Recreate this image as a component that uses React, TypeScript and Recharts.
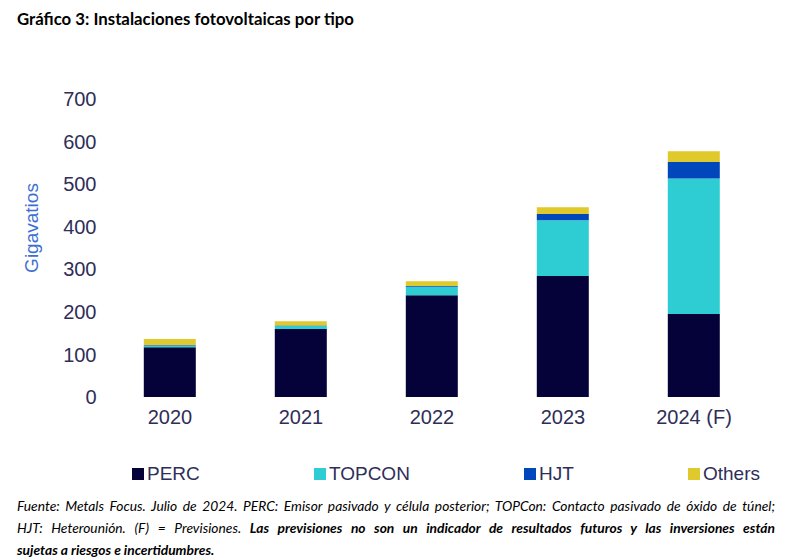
import { BarChart, Bar, XAxis, YAxis } from "recharts";

const years = ["2020", "2021", "2022", "2023", "2024 (F)"];
const perc = [117, 160, 239, 284, 195];
const topcon = [4, 7, 20, 131, 318];
const hjt = [1, 1, 2, 15, 39];
const others = [14, 10, 11, 16, 25];
const yTicks = [0, 100, 200, 300, 400, 500, 600, 700];

const series = [
  { key: "perc", name: "PERC", color: "#040238" },
  { key: "topcon", name: "TOPCON", color: "#2ecdd4" },
  { key: "hjt", name: "HJT", color: "#0047bb" },
  { key: "others", name: "Others", color: "#e0c92c" },
];

const data = years.map((year, i) => ({
  year,
  perc: perc[i],
  topcon: topcon[i],
  hjt: hjt[i],
  others: others[i],
}));

const axisFont = "Arial, 'Liberation Sans', sans-serif";
const noteFont = "Lato, 'Open Sans', sans-serif";

function YTitle({ viewBox }: any) {
  const x = viewBox.x - 13;
  const y = 228;
  return (
    <text
      x={x}
      y={y}
      transform={`rotate(-90, ${x}, ${y})`}
      textAnchor="middle"
      dominantBaseline="central"
      fill="#3b6fd2"
      fontSize={19}
      fontFamily={axisFont}
    >
      Gigavatios
    </text>
  );
}

export default function App() {
  return (
    <div
      style={{
        position: "absolute",
        left: 0,
        top: 0,
        width: 792,
        height: 560,
        background: "#fff",
        overflow: "hidden",
      }}
    >
      <div
        style={{
          position: "absolute",
          left: 17,
          top: 8,
          fontFamily: noteFont,
          fontWeight: 700,
          fontSize: 16.8,
          color: "#000",
        }}
      >
        Gráfico 3: Instalaciones fotovoltaicas por tipo
      </div>

      <div style={{ position: "absolute", left: 0, top: 0 }}>
        <BarChart
          width={792}
          height={440}
          data={data}
          margin={{ top: 99, right: 32.5, left: 44.5, bottom: 13 }}
          barCategoryGap="30%"
        >
          <XAxis
            dataKey="year"
            axisLine={false}
            tickLine={false}
            tickMargin={7}
            tick={{ fill: "#2e2e58", fontSize: 20, fontFamily: axisFont }}
          />
          <YAxis
            width={60}
            domain={[0, 700]}
            ticks={yTicks}
            axisLine={false}
            tickLine={false}
            tick={{ fill: "#2e2e58", fontSize: 20, fontFamily: axisFont }}
            label={<YTitle />}
          />
          {series.map((s) => (
            <Bar
              key={s.key}
              dataKey={s.key}
              name={s.name}
              stackId="a"
              fill={s.color}
              isAnimationActive={false}
            />
          ))}
        </BarChart>
      </div>

      <div
        style={{
          position: "absolute",
          left: 132,
          top: 462,
          width: 628,
          display: "flex",
          justifyContent: "space-between",
          fontFamily: axisFont,
          fontSize: 19,
          color: "#2e2e58",
          lineHeight: "24px",
        }}
      >
        {series.map((s) => (
          <div key={s.key} style={{ display: "flex", alignItems: "center" }}>
            <span
              style={{
                display: "inline-block",
                width: 12,
                height: 12,
                background: s.color,
                marginRight: 3,
              }}
            />
            {s.name}
          </div>
        ))}
      </div>

      <div
        style={{
          position: "absolute",
          left: 17,
          top: 495,
          width: 758,
          fontFamily: noteFont,
          fontStyle: "italic",
          fontSize: 13.8,
          lineHeight: "22px",
          color: "#000",
        }}
      >
        <div style={{ textAlign: "justify", textAlignLast: "justify", whiteSpace: "nowrap" }}>
          Fuente: Metals Focus. Julio de 2024. PERC: Emisor pasivado y célula posterior; TOPCon: Contacto pasivado de óxido de túnel;
        </div>
        <div style={{ textAlign: "justify", textAlignLast: "justify", whiteSpace: "nowrap" }}>
          HJT: Heterounión. (F) = Previsiones.{" "}
          <b>Las previsiones no son un indicador de resultados futuros y las inversiones están</b>
        </div>
        <div>
          <b>sujetas a riesgos e incertidumbres.</b>
        </div>
      </div>
    </div>
  );
}
